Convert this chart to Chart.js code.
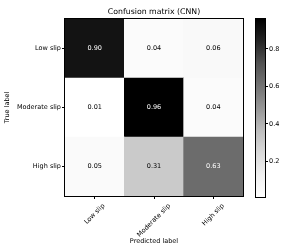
<!DOCTYPE html>
<html>
<head>
<meta charset="utf-8">
<script src="https://cdn.jsdelivr.net/npm/chart.js@4.4.0/dist/chart.umd.min.js"></script>
<style>
  html, body { margin: 0; padding: 0; background: #fff; }
  #wrap { position: relative; width: 300px; height: 250px; }
  #wrap canvas { position: absolute; left: 0; top: 0; }
</style>
</head>
<body>
<div id="wrap">
  <canvas id="matrix" width="300" height="250"></canvas>
  <canvas id="colorbar" width="300" height="250"></canvas>
</div>
<script>
const classes = ['Low slip', 'Moderate slip', 'High slip'];
const lowSlipRow = [0.90, 0.04, 0.06];
const moderateSlipRow = [0.01, 0.96, 0.04];
const highSlipRow = [0.05, 0.31, 0.63];
const colorbarTicks = [0.2, 0.4, 0.6, 0.8];

const rows = [lowSlipRow, moderateSlipRow, highSlipRow];
const allValues = rows.flat();
const vmin = Math.min(...allValues);
const vmax = Math.max(...allValues);
const thresh = vmax / 2;

const FONT = '"DejaVu Sans", sans-serif';

// matplotlib "Greys"
const greys = [255, 240, 217, 189, 150, 115, 82, 37, 0];
function greyColor(v) {
    let t = (v - vmin) / (vmax - vmin);
    t = Math.max(0, Math.min(1, t)) * (greys.length - 1);
    const i = Math.min(Math.floor(t), greys.length - 2);
    const g = Math.round(greys[i] + (greys[i + 1] - greys[i]) * (t - i));
    return `rgb(${g},${g},${g})`;
}

// stacked from the bottom: High slip, Moderate slip, Low slip
const datasets = rows.slice().reverse().map(row => ({
    data: row.map(() => 1),
    values: row,
    backgroundColor: row.map(greyColor),
    borderWidth: 0,
    barPercentage: 1,
    categoryPercentage: 1
}));

const cellPlugin = {
    id: 'cells',
    afterDatasetsDraw(chart) {
        const ctx = chart.ctx;
        const a = chart.chartArea;
        ctx.save();
        ctx.font = '6.5px ' + FONT;
        ctx.textAlign = 'center';
        ctx.textBaseline = 'middle';
        chart.data.datasets.forEach((ds, di) => {
            chart.getDatasetMeta(di).data.forEach((bar, i) => {
                const v = ds.values[i];
                const p = bar.getProps(['x', 'y', 'base'], true);
                ctx.fillStyle = v > thresh ? '#fff' : '#000';
                ctx.fillText(v.toFixed(2), p.x, (p.y + p.base) / 2);
            });
        });

        ctx.strokeStyle = '#000';
        ctx.lineWidth = 1;
        ctx.strokeRect(Math.round(a.left) - 0.5, Math.round(a.top) - 0.5,
                       Math.round(a.right - a.left) + 1, Math.round(a.bottom - a.top) + 1);

        // x tick labels, rotated 45 and centred under the tick
        const xs = chart.scales.x;
        ctx.fillStyle = '#000';
        classes.forEach((c, i) => {
            const x = xs.getPixelForTick(i);
            const w = ctx.measureText(c).width;
            const half = (w + 6.5) * Math.SQRT1_2 / 2;
            ctx.save();
            ctx.translate(x, a.bottom + 6.5 + half);
            ctx.rotate(-Math.PI / 4);
            ctx.fillText(c, 0, 0);
            ctx.restore();
        });
        ctx.restore();
    }
};

new Chart(document.getElementById('matrix'), {
    type: 'bar',
    data: { labels: classes, datasets: datasets },
    options: {
        responsive: false,
        animation: false,
        devicePixelRatio: 1,
        layout: { padding: { left: 0, right: 57, top: 0, bottom: 0 } },
        plugins: {
            legend: { display: false },
            tooltip: { enabled: false },
            title: {
                display: true,
                fullSize: false,
                text: 'Confusion matrix (CNN)',
                color: '#000',
                font: { family: FONT, size: 7.8, weight: 'normal' },
                padding: { top: 7.3, bottom: 2.3 }
            }
        },
        scales: {
            x: {
                stacked: true,
                offset: true,
                grid: { offset: false, drawOnChartArea: false, tickLength: 3, color: '#000' },
                border: { display: false },
                ticks: { display: false },
                title: {
                    display: true,
                    text: 'Predicted label',
                    color: '#000',
                    font: { family: FONT, size: 6.5 },
                    padding: { top: 0, bottom: 5 }
                },
                afterFit(scale) { scale.height = 54; }
            },
            y: {
                stacked: true,
                min: 0,
                max: 3,
                afterBuildTicks(scale) {
                    scale.ticks = [0.5, 1.5, 2.5].map(v => ({ value: v }));
                },
                afterFit(scale) { scale.width = 65; },
                grid: { drawOnChartArea: false, tickLength: 3, color: '#000' },
                border: { display: false },
                ticks: {
                    color: '#000',
                    padding: 1,
                    font: { family: FONT, size: 6.5 },
                    callback: v => classes[2 - Math.floor(v)]
                },
                title: {
                    display: true,
                    text: 'True label',
                    color: '#000',
                    font: { family: FONT, size: 6.5 },
                    padding: { top: 3.5, bottom: 0 }
                }
            }
        }
    },
    plugins: [cellPlugin]
});

const framePlugin = {
    id: 'frame',
    afterDatasetsDraw(chart) {
        const a = chart.chartArea;
        const ctx = chart.ctx;
        ctx.save();
        ctx.strokeStyle = '#000';
        ctx.lineWidth = 1;
        ctx.strokeRect(Math.round(a.left) - 0.5, Math.round(a.top) - 0.5,
                       Math.round(a.right - a.left) + 1, Math.round(a.bottom - a.top) + 1);
        ctx.restore();
    }
};

new Chart(document.getElementById('colorbar'), {
    type: 'bar',
    data: {
        labels: [''],
        datasets: [{
            data: [[vmin, vmax]],
            borderWidth: 0,
            barPercentage: 1,
            categoryPercentage: 1,
            backgroundColor(c) {
                const a = c.chart.chartArea;
                if (!a) return '#888';
                const g = c.chart.ctx.createLinearGradient(0, a.bottom, 0, a.top);
                greys.forEach((v, i) => g.addColorStop(i / (greys.length - 1), `rgb(${v},${v},${v})`));
                return g;
            }
        }]
    },
    options: {
        responsive: false,
        animation: false,
        devicePixelRatio: 1,
        layout: { padding: { left: 256, right: 0, top: 19, bottom: 53 } },
        plugins: { legend: { display: false }, tooltip: { enabled: false } },
        scales: {
            x: { display: false },
            y: {
                position: 'right',
                min: vmin,
                max: vmax,
                afterBuildTicks(scale) {
                    scale.ticks = colorbarTicks.map(v => ({ value: v }));
                },
                afterFit(scale) { scale.width = 35; },
                grid: { drawOnChartArea: false, tickLength: 3, color: '#000' },
                border: { display: false },
                ticks: {
                    color: '#000',
                    padding: 1,
                    font: { family: FONT, size: 6.5 },
                    callback: v => v.toFixed(1)
                }
            }
        }
    },
    plugins: [framePlugin]
});
</script>
</body>
</html>
